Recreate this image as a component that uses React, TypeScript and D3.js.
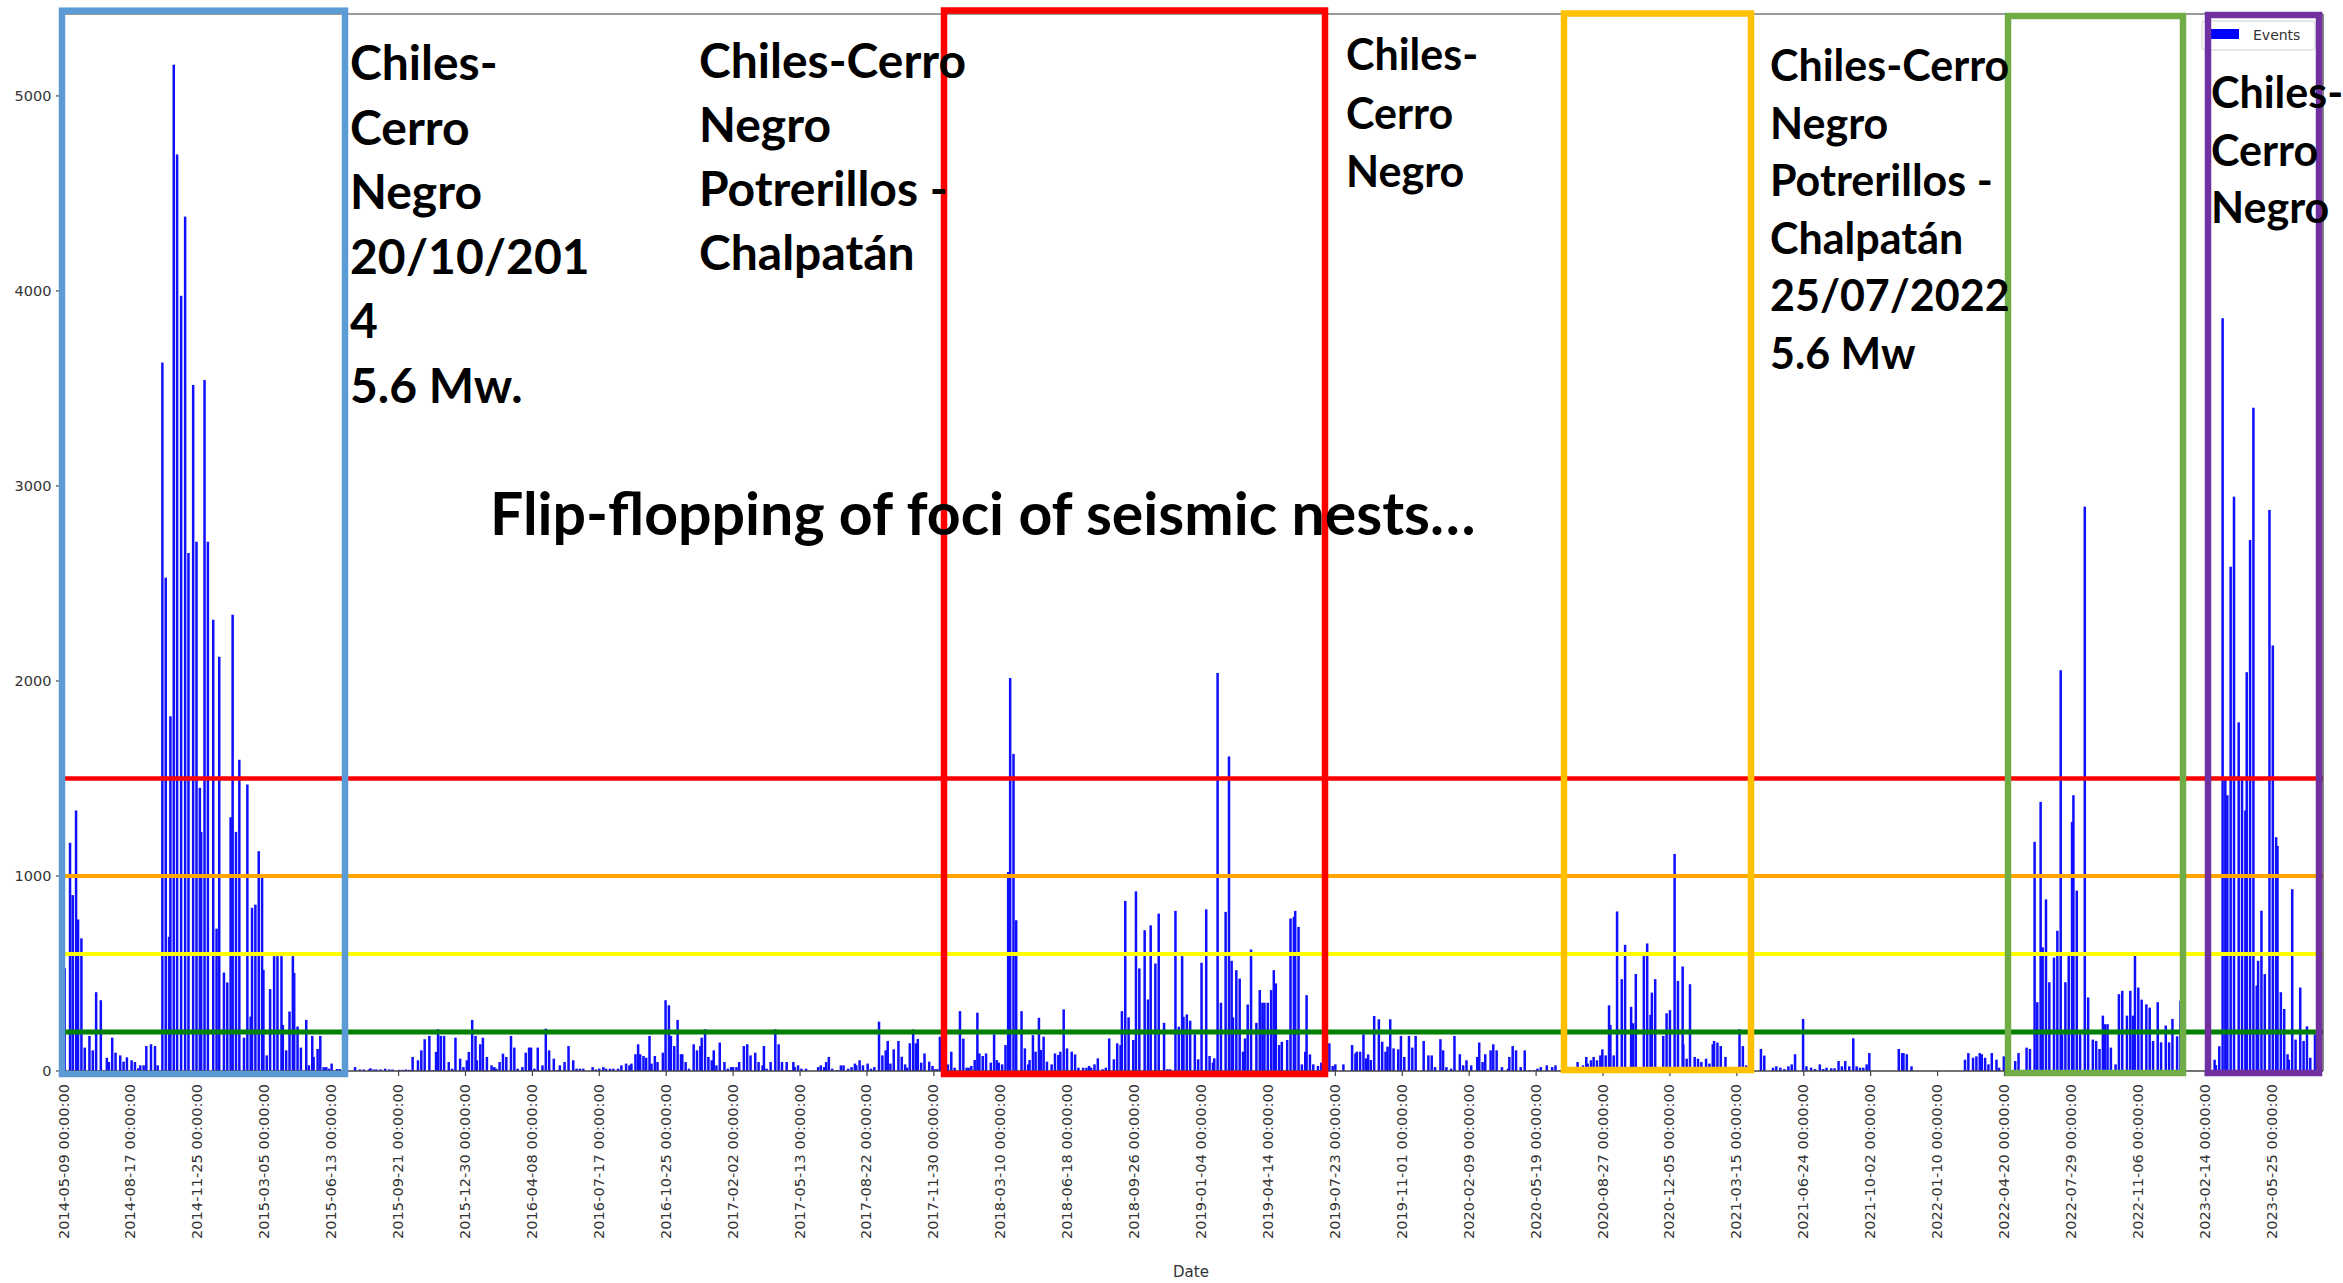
import React from "react";
import * as d3 from "d3";

// ---------- DATA ----------
const tickDates = [
  "2014-05-09", "2014-08-17", "2014-11-25", "2015-03-05", "2015-06-13", "2015-09-21",
  "2015-12-30", "2016-04-08", "2016-07-17", "2016-10-25", "2017-02-02", "2017-05-13",
  "2017-08-22", "2017-11-30", "2018-03-10", "2018-06-18", "2018-09-26", "2019-01-04",
  "2019-04-14", "2019-07-23", "2019-11-01", "2020-02-09", "2020-05-19", "2020-08-27",
  "2020-12-05", "2021-03-15", "2021-06-24", "2021-10-02", "2022-01-10", "2022-04-20",
  "2022-07-29", "2022-11-06", "2023-02-14", "2023-05-25",
];
const yTickValues = [0, 1000, 2000, 3000, 4000, 5000];
const thresholdValues = [1500, 1000, 600, 200];

// [day index from 2014-05-09, events]
const events2014a: [number, number][] = [
  [1, 527], [9, 1170], [13, 902], [18, 1336], [21, 777], [26, 680], [31, 120], [38, 180],
  [43, 106], [48, 404], [55, 363], [60, 3], [64, 68], [67, 46], [72, 171], [77, 94],
  [84, 80], [89, 48], [94, 70], [101, 55], [106, 46], [111, 14], [114, 29], [119, 29],
  [123, 128], [130, 137], [136, 128], [140, 29],
];
const events2014b: [number, number][] = [
  [147, 3633], [152, 2530], [157, 688], [159, 1819], [164, 5160], [169, 4700], [175, 3975],
  [181, 4381], [186, 2656], [193, 3518], [198, 2714], [203, 1452], [205, 1226], [210, 3543],
  [215, 2714], [223, 2314], [228, 730], [232, 2124], [239, 505], [244, 454], [249, 1301],
  [252, 2340], [257, 1226], [262, 1596], [269, 171], [274, 1469], [279, 279], [281, 837],
  [286, 853], [291, 1127], [296, 993], [298, 519], [303, 80], [308, 420], [314, 589],
  [319, 589], [325, 589], [327, 236], [332, 106], [337, 305], [342, 589], [344, 503],
  [349, 228], [354, 120], [362, 262], [366, 29], [371, 180], [373, 72], [379, 113],
  [383, 180], [388, 20], [392, 20], [396, 12], [400, 38], [408, 10], [412, 10],
];
const events2015: [number, number][] = [
  [435, 20], [442, 8], [448, 8], [456, 8], [458, 14], [463, 8], [467, 8], [473, 8], [480, 12],
  [486, 8], [491, 8], [501, 6], [506, 6], [511, 8], [516, 6], [521, 72], [529, 55], [534, 106],
  [539, 163], [546, 180], [551, 5], [556, 98], [559, 214], [563, 180], [568, 180], [575, 46],
  [580, 12], [585, 171], [592, 63], [597, 20], [602, 55], [605, 98], [610, 262], [615, 180],
  [617, 55], [622, 137], [626, 171], [632, 72], [639, 29], [643, 20], [646, 12], [651, 46],
  [656, 89], [661, 72], [668, 180], [673, 120], [678, 12], [685, 20], [690, 94], [695, 120],
  [698, 120], [703, 12], [708, 120], [715, 29], [720, 217], [725, 106], [732, 63], [737, 5],
  [741, 29], [748, 46], [754, 128], [761, 55], [766, 12], [771, 12], [776, 12], [790, 20],
  [795, 8], [800, 12], [806, 20], [810, 12], [816, 12], [821, 12], [828, 12], [833, 29],
  [840, 38], [845, 29],
];
const events2016: [number, number][] = [
  [848, 38], [854, 86], [858, 137], [861, 86], [866, 77], [870, 68], [875, 180], [878, 38],
  [883, 77], [887, 46], [895, 94], [899, 363], [904, 337], [907, 180], [912, 128], [917, 262],
  [922, 86], [924, 86], [929, 46], [934, 12], [941, 137], [946, 106], [951, 128], [953, 171],
  [958, 214], [963, 72], [968, 55], [971, 106], [975, 29], [980, 146], [987, 46], [992, 12],
  [997, 20], [1000, 20], [1005, 20], [1009, 46], [1016, 128], [1021, 137], [1026, 80],
  [1033, 94], [1038, 46], [1044, 29], [1046, 128], [1050, 12], [1056, 46], [1063, 214],
  [1068, 137], [1073, 46], [1080, 46], [1085, 5], [1090, 46], [1092, 20], [1097, 29],
  [1102, 12], [1109, 12], [1127, 20], [1131, 29], [1136, 20], [1139, 46], [1143, 72],
  [1148, 12], [1156, 5], [1161, 29], [1165, 29], [1172, 12], [1177, 20], [1182, 38],
  [1184, 29], [1189, 55], [1194, 29], [1201, 38], [1206, 12], [1211, 20], [1218, 253],
  [1223, 80], [1228, 106], [1231, 154], [1235, 38], [1240, 111], [1247, 154],
];
const events2018: [number, number][] = [
  [1252, 73], [1257, 34], [1260, 17], [1264, 142], [1269, 213], [1273, 142], [1276, 164],
  [1281, 43], [1286, 90], [1293, 48], [1298, 26], [1302, 9], [1305, 9], [1309, 176], [1321, 34],
  [1326, 99], [1331, 17], [1339, 307], [1344, 166], [1349, 17], [1352, 17], [1356, 26],
  [1361, 56], [1365, 299], [1368, 90], [1373, 77], [1378, 90], [1385, 43], [1390, 188],
  [1394, 56], [1397, 43], [1402, 34], [1407, 133], [1411, 1020], [1414, 2015], [1419, 1626],
  [1423, 773], [1431, 307], [1436, 116], [1441, 34], [1443, 56], [1448, 184], [1452, 99],
  [1457, 273], [1460, 108], [1464, 176], [1469, 48], [1476, 34], [1481, 90], [1486, 82],
  [1489, 99], [1494, 316], [1499, 116], [1506, 99], [1511, 85], [1516, 17], [1523, 17],
  [1528, 17], [1532, 26], [1535, 17], [1540, 34], [1545, 65], [1552, 9], [1557, 17],
  [1562, 167], [1569, 60], [1574, 142], [1579, 133], [1581, 307], [1586, 872], [1591, 275],
  [1598, 159], [1602, 921], [1607, 526], [1615, 722], [1620, 367], [1624, 747], [1631, 551],
  [1636, 807], [1644, 247], [1649, 9], [1653, 9], [1661, 821], [1666, 227], [1671, 589],
  [1673, 278], [1678, 290], [1683, 258], [1690, 188], [1695, 60], [1700, 555], [1707, 829],
  [1712, 77], [1717, 43], [1719, 65], [1724, 2041], [1729, 350], [1736, 816], [1741, 1613],
  [1745, 565], [1747, 275], [1752, 517], [1757, 474], [1762, 99], [1765, 167], [1769, 341],
  [1774, 623], [1782, 247], [1787, 415], [1791, 350], [1794, 350], [1799, 350], [1804, 415],
  [1808, 517], [1811, 449], [1816, 133], [1820, 150], [1828, 159], [1833, 782], [1838, 790],
  [1840, 821], [1845, 739], [1850, 34], [1855, 99], [1857, 389], [1862, 85], [1867, 34],
  [1874, 26], [1879, 43], [1891, 142], [1896, 26], [1900, 34], [1912, 34], [1925, 133],
  [1930, 90], [1932, 99], [1937, 99], [1942, 188], [1946, 65], [1949, 85], [1953, 56],
  [1958, 282], [1965, 265], [1970, 150], [1975, 99], [1978, 125], [1982, 265], [1987, 116],
  [1994, 111],
];
const events2020: [number, number][] = [
  [1998, 180], [2003, 72], [2010, 180], [2015, 120], [2020, 180], [2032, 154], [2039, 80],
  [2044, 80], [2049, 20], [2057, 163], [2061, 106], [2066, 20], [2073, 12], [2078, 180],
  [2086, 86], [2091, 29], [2096, 55], [2103, 29], [2112, 72], [2115, 146], [2120, 46],
  [2124, 86], [2132, 106], [2136, 137], [2141, 106], [2149, 20], [2158, 12], [2160, 72],
  [2165, 128], [2170, 106], [2177, 20], [2183, 106], [2190, 5], [2197, 5], [2202, 12],
  [2207, 20], [2216, 29], [2224, 20], [2229, 29], [2236, 5], [2248, 20], [2253, 12],
  [2262, 46], [2270, 29], [2275, 72], [2277, 38], [2282, 55], [2286, 72], [2291, 55],
  [2296, 80], [2299, 111], [2304, 80], [2309, 337], [2311, 236], [2316, 80], [2321, 818],
  [2328, 471], [2333, 647], [2338, 12], [2342, 329], [2345, 245], [2349, 497], [2354, 12],
  [2361, 591], [2366, 654], [2371, 288], [2373, 402], [2378, 471], [2390, 180], [2395, 296],
  [2400, 312], [2407, 1113], [2412, 462], [2419, 536], [2420, 137], [2425, 63], [2430, 445],
  [2437, 72], [2442, 63], [2447, 46], [2454, 63], [2459, 38], [2464, 137], [2466, 154],
  [2471, 146], [2476, 128], [2483, 72], [2490, 5], [2495, 5], [2500, 20], [2504, 214],
  [2509, 128], [2514, 29],
];
const events2022: [number, number][] = [
  [2536, 113], [2541, 79], [2554, 17], [2559, 24], [2565, 17], [2571, 10], [2577, 24],
  [2582, 34], [2587, 86], [2599, 267], [2604, 24], [2611, 17], [2617, 10], [2624, 34],
  [2629, 10], [2634, 17], [2641, 14], [2646, 14], [2652, 51], [2657, 24], [2662, 51],
  [2668, 24], [2674, 168], [2679, 24], [2684, 17], [2689, 17], [2694, 34], [2698, 92],
  [2742, 113], [2747, 92], [2749, 92], [2754, 86], [2761, 24], [2841, 58], [2846, 92],
  [2853, 68], [2858, 75], [2863, 92], [2866, 86], [2871, 68], [2876, 34], [2881, 92],
  [2888, 58], [2892, 17], [2899, 75], [2916, 51], [2921, 92], [2933, 120], [2938, 113],
  [2945, 1175], [2949, 353], [2954, 1380], [2957, 634], [2962, 880], [2967, 455], [2974, 582],
  [2979, 719], [2984, 2055], [2986, 188], [2991, 455], [2996, 592], [3001, 1277], [3003, 1414],
  [3008, 925], [3013, 188], [3020, 2894], [3025, 377], [3032, 161], [3037, 154], [3042, 113],
  [3047, 284], [3050, 240], [3054, 240], [3059, 120], [3066, 34], [3071, 394], [3076, 411],
  [3083, 284], [3088, 411], [3092, 284], [3095, 592], [3100, 428], [3105, 366], [3112, 342],
  [3117, 325], [3122, 154], [3129, 353], [3134, 147], [3141, 233], [3146, 147], [3151, 267],
  [3158, 178], [3163, 360],
];
const events2023: [number, number][] = [
  [3214, 58], [3216, 30], [3221, 127], [3226, 3860], [3230, 1507], [3233, 1414], [3238, 2586],
  [3243, 2945], [3250, 1788], [3255, 1507], [3260, 1336], [3262, 2045], [3267, 2723],
  [3272, 3401], [3277, 438], [3279, 565], [3284, 822], [3289, 497], [3296, 2877], [3301, 2182],
  [3306, 1199], [3308, 1154], [3313, 404], [3318, 318], [3323, 86], [3325, 58], [3330, 932],
  [3335, 161], [3342, 428], [3347, 154], [3352, 229], [3357, 68], [3364, 188], [3367, 188],
];
const allEvents = [
  ...events2014a, ...events2014b, ...events2015, ...events2016,
  ...events2018, ...events2020, ...events2022, ...events2023,
];

// annotation texts
const noteA = ["Chiles-", "Cerro", "Negro", "20/10/201", "4", "5.6 Mw."];
const noteB = ["Chiles-Cerro", "Negro", "Potrerillos -", "Chalpatán"];
const noteC = ["Chiles-", "Cerro", "Negro"];
const noteD = ["Chiles-Cerro", "Negro", "Potrerillos -", "Chalpatán", "25/07/2022", "5.6 Mw"];
const noteE = ["Chiles-", "Cerro", "Negro"];
const headline = "Flip-flopping of foci of seismic nests…";

// ---------- LAYOUT ----------
const W = 2343;
const H = 1283;
const L = 60, R = 2323, T = 14, B = 1071;

const x = d3.scaleLinear().domain([-6, 3376]).range([L, R]);
const y = d3.scaleLinear().domain([0, 5420]).range([B, T]);

const thresholdColors = ["#ff0000", "#ffa500", "#ffff00", "#008000"];
const thresholdWidths = [4.5, 4.2, 4.2, 5];

const annFont = "Lato, 'Open Sans', sans-serif";
const tickFont = "'DejaVu Sans', sans-serif";

function Note({ lines, x0, y0, size, gap }: { lines: string[]; x0: number; y0: number; size: number; gap: number }) {
  return (
    <text fontFamily={annFont} fontWeight={700} fontSize={size} fill="#000">
      {lines.map((l, i) => (
        <tspan key={i} x={x0} y={y0 + i * gap}>{l}</tspan>
      ))}
    </text>
  );
}

export default function App() {
  const barW = 2.5;
  return (
    <svg width={W} height={H} viewBox={`0 0 ${W} ${H}`}
      style={{ position: "absolute", left: 0, top: 0, background: "#fff" }}>
      <rect x={0} y={0} width={W} height={H} fill="#fff" />
      {/* bars */}
      <g>
        {allEvents.map(([i, v], k) => (
          <rect key={k} x={x(i) - barW / 2} y={y(v)} width={barW} height={B - y(v)} fill="#1010ff" />
        ))}
      </g>
      {/* threshold lines */}
      {thresholdValues.map((v, k) => (
        <line key={k} x1={L} x2={R} y1={y(v)} y2={y(v)} stroke={thresholdColors[k]} strokeWidth={thresholdWidths[k]} />
      ))}
      {/* spines */}
      <line x1={L} x2={R} y1={T} y2={T} stroke="#777" strokeWidth={1.3} />
      <line x1={L} x2={R} y1={B} y2={B} stroke="#444" strokeWidth={1.4} />
      <line x1={L} x2={L} y1={T} y2={B} stroke="#444" strokeWidth={1.3} />
      <line x1={R} x2={R} y1={T} y2={B} stroke="#444" strokeWidth={1.3} />
      {/* y ticks */}
      {yTickValues.map((v) => (
        <g key={v}>
          <line x1={L - 4} x2={L} y1={y(v)} y2={y(v)} stroke="#444" strokeWidth={1.2} />
          <text x={L - 8.5} y={y(v)} textAnchor="end" dominantBaseline="central"
            fontFamily={tickFont} fontSize={14.5} fill="#333">{v}</text>
        </g>
      ))}
      {/* x ticks */}
      {tickDates.map((d, i) => (
        <g key={d}>
          <line x1={x(i * 100)} x2={x(i * 100)} y1={B} y2={B + 5} stroke="#444" strokeWidth={1.2} />
          <text transform={`translate(${x(i * 100) - 1},${B + 13}) rotate(-90)`} textAnchor="end"
            dominantBaseline="central" fontFamily={tickFont} fontSize={14.6} fill="#333">
            {d + " 00:00:00"}
          </text>
        </g>
      ))}
      <text x={1191} y={1277} textAnchor="middle" fontFamily={tickFont} fontSize={15} fill="#333">Date</text>
      {/* legend */}
      <rect x={2202} y={21} width={113} height={29} rx={3} fill="#fff" fillOpacity={0.85} stroke="#d0d0d0" strokeWidth={1} />
      <rect x={2211} y={29} width={28} height={10} fill="#0000ff" />
      <text x={2253} y={40} fontFamily={tickFont} fontSize={14} fill="#333">Events</text>

      {/* overlay boxes */}
      <g fill="none" strokeWidth={6.5}>
        <rect x={62} y={10.7} width={345 - 62} height={1074 - 10.7} stroke="#5b9bd5" />
        <rect x={944} y={10.5} width={1325 - 944} height={1074 - 10.5} stroke="#ff0000" />
        <rect x={1564} y={13.5} width={1751 - 1564} height={1070 - 13.5} stroke="#ffc000" />
        <rect x={2008} y={16} width={2183 - 2008} height={1073 - 16} stroke="#70ad47" />
        <rect x={2208} y={15} width={2319 - 2208} height={1073 - 15} stroke="#7030a0" />
      </g>

      {/* annotations */}
      <Note lines={noteA} x0={350} y0={80} size={48} gap={64.5} />
      <Note lines={noteB} x0={699} y0={78} size={48} gap={64} />
      <Note lines={noteC} x0={1346} y0={70} size={43} gap={58.5} />
      <Note lines={noteD} x0={1770} y0={81} size={43} gap={57.6} />
      <Note lines={noteE} x0={2211} y0={108} size={43} gap={57.5} />
      <text x={490} y={535} fontFamily={annFont} fontWeight={700} fontSize={59} fill="#000">{headline}</text>
    </svg>
  );
}
